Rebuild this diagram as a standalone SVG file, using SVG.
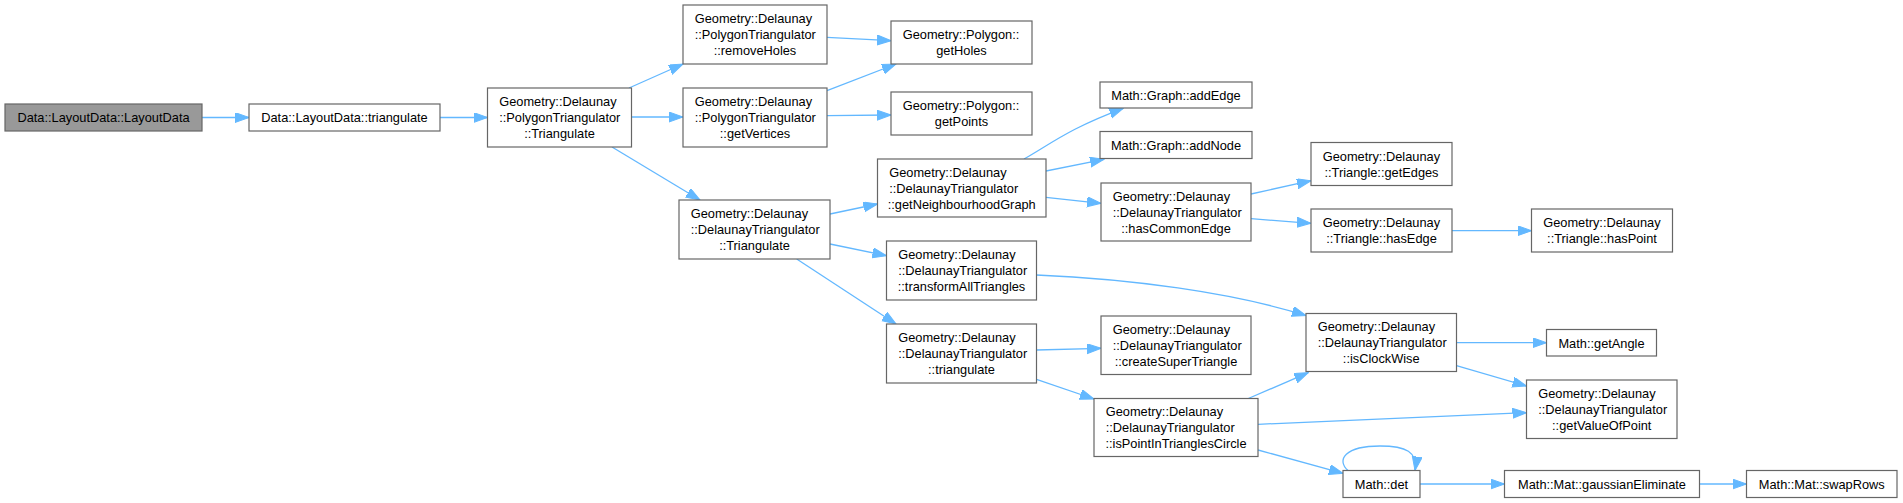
<svg xmlns="http://www.w3.org/2000/svg" width="1903" height="503" viewBox="0 0 1903 503">
<style>
.box{fill:#ffffff;stroke:#666666;stroke-width:1.2}
.root{fill:#999999;stroke:#666666;stroke-width:1.2}
text{font-family:"Liberation Sans",Arial,Helvetica,sans-serif;font-size:12.8px;fill:#000000}
.m{text-anchor:middle}
.l{text-anchor:start}
.edge{fill:none;stroke:#63b8ff;stroke-width:1.3}
</style>
<defs>
<marker id="arr" markerUnits="userSpaceOnUse" markerWidth="15" markerHeight="11" refX="14" refY="5" orient="auto">
<path d="M0,0 L14,5 L0,10 z" fill="#63b8ff" stroke="#63b8ff" stroke-width="1"/>
</marker>
</defs>
<rect width="1903" height="503" fill="#ffffff"/>
<g id="connectors">
<path class="edge" marker-end="url(#arr)" d="M202,117.5 L249,117.5"/>
<path class="edge" marker-end="url(#arr)" d="M440,117.5 L487.5,117.5"/>
<path class="edge" marker-end="url(#arr)" d="M629,88 L683,64"/>
<path class="edge" marker-end="url(#arr)" d="M631.5,117 L683,117"/>
<path class="edge" marker-end="url(#arr)" d="M612,147 L700,200"/>
<path class="edge" marker-end="url(#arr)" d="M827,37.3 L891,40.7"/>
<path class="edge" marker-end="url(#arr)" d="M827,90.7 L896,64"/>
<path class="edge" marker-end="url(#arr)" d="M827,115.7 L891,115"/>
<path class="edge" marker-end="url(#arr)" d="M830,214 L877.5,204"/>
<path class="edge" marker-end="url(#arr)" d="M830,244 L886.5,255.7"/>
<path class="edge" marker-end="url(#arr)" d="M796.7,259 L896,324"/>
<path class="edge" marker-end="url(#arr)" d="M1024,159 C1052,143 1070,128 1123.3,108.3"/>
<path class="edge" marker-end="url(#arr)" d="M1046,171 L1104,159.3"/>
<path class="edge" marker-end="url(#arr)" d="M1046,197.3 L1101,203.3"/>
<path class="edge" marker-end="url(#arr)" d="M1251,194 L1311,180.7"/>
<path class="edge" marker-end="url(#arr)" d="M1251,218.7 L1311,223.3"/>
<path class="edge" marker-end="url(#arr)" d="M1452,230.7 L1531.5,230.7"/>
<path class="edge" marker-end="url(#arr)" d="M1036.5,275 C1130,279 1230,292 1306,315.5"/>
<path class="edge" marker-end="url(#arr)" d="M1036.5,350 L1101,348.3"/>
<path class="edge" marker-end="url(#arr)" d="M1036.5,379.3 L1094,399"/>
<path class="edge" marker-end="url(#arr)" d="M1248.3,398.5 L1308.3,372.7"/>
<path class="edge" marker-end="url(#arr)" d="M1258,424.3 L1526.5,412.7"/>
<path class="edge" marker-end="url(#arr)" d="M1258,450 L1343,473.3"/>
<path class="edge" marker-end="url(#arr)" d="M1456.5,342.7 L1546.5,342.7"/>
<path class="edge" marker-end="url(#arr)" d="M1456.5,365.7 L1526.5,386"/>
<path class="edge" marker-end="url(#arr)" d="M1348,470.5 C1336,460 1345,446 1380,446 C1406,446 1418,452 1415,470.5"/>
<path class="edge" marker-end="url(#arr)" d="M1420,484 L1504.5,484"/>
<path class="edge" marker-end="url(#arr)" d="M1699.5,484 L1746.5,484"/>
</g>
<g id="n_layoutdata"><rect class="root" x="5" y="104" width="197" height="27"/><text class="m" x="103.5" y="122.3">Data::LayoutData::LayoutData</text></g>
<g id="n_triangulate"><rect class="box" x="249" y="104" width="191" height="27"/><text class="m" x="344.5" y="122.3">Data::LayoutData::triangulate</text></g>
<g id="n_pt_triangulate"><rect class="box" x="487.5" y="88" width="144" height="59"/><text class="l" x="499.2" y="106.3">Geometry::Delaunay</text><text class="l" x="499.2" y="122.3">::PolygonTriangulator</text><text class="m" x="559.5" y="138.3">::Triangulate</text></g>
<g id="n_removeholes"><rect class="box" x="683" y="5" width="144" height="59"/><text class="l" x="694.7" y="23.3">Geometry::Delaunay</text><text class="l" x="694.7" y="39.3">::PolygonTriangulator</text><text class="m" x="755" y="55.3">::removeHoles</text></g>
<g id="n_getvertices"><rect class="box" x="683" y="88" width="144" height="59"/><text class="l" x="694.7" y="106.3">Geometry::Delaunay</text><text class="l" x="694.7" y="122.3">::PolygonTriangulator</text><text class="m" x="755" y="138.3">::getVertices</text></g>
<g id="n_getholes"><rect class="box" x="891" y="21" width="141" height="43"/><text class="l" x="902.7" y="39.3">Geometry::Polygon::</text><text class="m" x="961.5" y="55.3">getHoles</text></g>
<g id="n_getpoints"><rect class="box" x="891" y="92" width="141" height="43"/><text class="l" x="902.7" y="110.3">Geometry::Polygon::</text><text class="m" x="961.5" y="126.3">getPoints</text></g>
<g id="n_dt_triangulate"><rect class="box" x="679" y="200" width="151" height="59"/><text class="l" x="690.7" y="218.3">Geometry::Delaunay</text><text class="l" x="690.7" y="234.3">::DelaunayTriangulator</text><text class="m" x="754.5" y="250.3">::Triangulate</text></g>
<g id="n_getneighbourhoodgraph"><rect class="box" x="877.5" y="159" width="168.5" height="58"/><text class="l" x="889.2" y="176.8">Geometry::Delaunay</text><text class="l" x="889.2" y="192.8">::DelaunayTriangulator</text><text class="m" x="961.75" y="208.8">::getNeighbourhoodGraph</text></g>
<g id="n_addedge"><rect class="box" x="1100" y="82" width="152" height="26"/><text class="m" x="1176" y="99.8">Math::Graph::addEdge</text></g>
<g id="n_addnode"><rect class="box" x="1100" y="131.5" width="152" height="27"/><text class="m" x="1176" y="149.8">Math::Graph::addNode</text></g>
<g id="n_hascommonedge"><rect class="box" x="1101" y="183" width="150" height="58"/><text class="l" x="1112.7" y="200.8">Geometry::Delaunay</text><text class="l" x="1112.7" y="216.8">::DelaunayTriangulator</text><text class="m" x="1176" y="232.8">::hasCommonEdge</text></g>
<g id="n_getedges"><rect class="box" x="1311" y="142.5" width="141" height="43"/><text class="l" x="1322.7" y="160.8">Geometry::Delaunay</text><text class="m" x="1381.5" y="176.8">::Triangle::getEdges</text></g>
<g id="n_hasedge"><rect class="box" x="1311" y="209" width="141" height="43"/><text class="l" x="1322.7" y="227.3">Geometry::Delaunay</text><text class="m" x="1381.5" y="243.3">::Triangle::hasEdge</text></g>
<g id="n_haspoint"><rect class="box" x="1531.5" y="209" width="141" height="43"/><text class="l" x="1543.2" y="227.3">Geometry::Delaunay</text><text class="m" x="1602" y="243.3">::Triangle::hasPoint</text></g>
<g id="n_transformalltriangles"><rect class="box" x="886.5" y="241" width="150" height="59"/><text class="l" x="898.2" y="259.3">Geometry::Delaunay</text><text class="l" x="898.2" y="275.3">::DelaunayTriangulator</text><text class="m" x="961.5" y="291.3">::transformAllTriangles</text></g>
<g id="n_dt_triangulate_lower"><rect class="box" x="886.5" y="324" width="150" height="59"/><text class="l" x="898.2" y="342.3">Geometry::Delaunay</text><text class="l" x="898.2" y="358.3">::DelaunayTriangulator</text><text class="m" x="961.5" y="374.3">::triangulate</text></g>
<g id="n_createsupertriangle"><rect class="box" x="1101" y="316" width="150" height="58.5"/><text class="l" x="1112.7" y="334">Geometry::Delaunay</text><text class="l" x="1112.7" y="350">::DelaunayTriangulator</text><text class="m" x="1176" y="366">::createSuperTriangle</text></g>
<g id="n_ispointintrianglescircle"><rect class="box" x="1094" y="398.5" width="164" height="58"/><text class="l" x="1105.7" y="416.3">Geometry::Delaunay</text><text class="l" x="1105.7" y="432.3">::DelaunayTriangulator</text><text class="m" x="1176" y="448.3">::isPointInTrianglesCircle</text></g>
<g id="n_isclockwise"><rect class="box" x="1306" y="313.5" width="150.5" height="58"/><text class="l" x="1317.7" y="331.3">Geometry::Delaunay</text><text class="l" x="1317.7" y="347.3">::DelaunayTriangulator</text><text class="m" x="1381.25" y="363.3">::isClockWise</text></g>
<g id="n_getangle"><rect class="box" x="1546.5" y="329.5" width="110" height="26.5"/><text class="m" x="1601.5" y="347.5">Math::getAngle</text></g>
<g id="n_getvalueofpoint"><rect class="box" x="1526.5" y="380" width="150.5" height="58.5"/><text class="l" x="1538.2" y="398">Geometry::Delaunay</text><text class="l" x="1538.2" y="414">::DelaunayTriangulator</text><text class="m" x="1601.75" y="430">::getValueOfPoint</text></g>
<g id="n_det"><rect class="box" x="1343" y="470.5" width="77" height="27"/><text class="m" x="1381.5" y="488.8">Math::det</text></g>
<g id="n_gaussianeliminate"><rect class="box" x="1504.5" y="470.5" width="195" height="27"/><text class="m" x="1602" y="488.8">Math::Mat::gaussianEliminate</text></g>
<g id="n_swaprows"><rect class="box" x="1746.5" y="470.5" width="150.5" height="27"/><text class="m" x="1821.75" y="488.8">Math::Mat::swapRows</text></g>
</svg>
